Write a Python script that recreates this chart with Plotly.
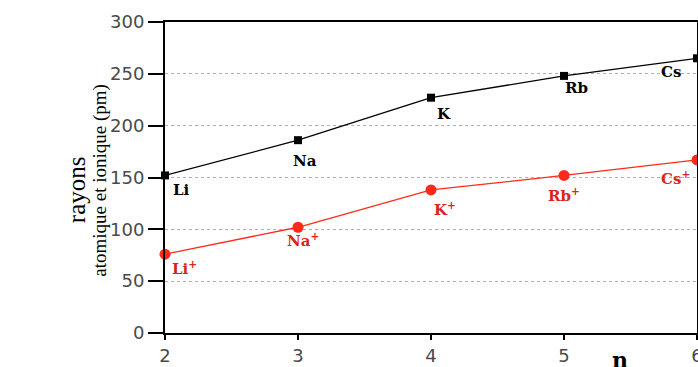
import plotly.graph_objects as go

# Period number n and radii (pm) of the alkali metals
periods = [2, 3, 4, 5, 6]
atom_labels = ["Li", "Na", "K", "Rb", "Cs"]
ion_labels = ["Li<sup>+</sup>", "Na<sup>+</sup>", "K<sup>+</sup>", "Rb<sup>+</sup>", "Cs<sup>+</sup>"]
atomic_radius = [152, 186, 227, 248, 265]
ionic_radius = [76, 102, 138, 152, 167]
y_ticks = [0, 50, 100, 150, 200, 250, 300]
x_ticks = [2, 3, 4, 5, 6]

BLACK = "#000000"
RED = "#ff2a1a"
RED_TEXT = "#d8261a"

fig = go.Figure()
fig.add_trace(go.Scatter(
    x=periods, y=atomic_radius, mode="lines+markers",
    line=dict(color=BLACK, width=1.3),
    marker=dict(symbol="square", size=8, color=BLACK),
    cliponaxis=False, showlegend=False,
))
fig.add_trace(go.Scatter(
    x=periods, y=ionic_radius, mode="lines+markers",
    line=dict(color=RED, width=1.3),
    marker=dict(symbol="circle", size=11, color=RED),
    cliponaxis=False, showlegend=False,
))

label_font = dict(family="DejaVu Serif", size=15, weight="bold")

# label offsets (px) relative to each point
atom_off = [(6, -15, "left"), (7, -21, "center"), (13, -16, "center"), (12, -12, "center"), (-26, -14, "center")]
ion_off = [(5, -14, "left"), (5, -13, "center"), (14, -19, "center"), (0, -20, "center"), (-22, -18, "center")]

for xv, yv, txt, (dx, dy, anc) in zip(periods, atomic_radius, atom_labels, atom_off):
    fig.add_annotation(x=xv, y=yv, text=txt, showarrow=False, xanchor=anc, yanchor="middle",
                       xshift=dx, yshift=dy, font=dict(color=BLACK, **label_font))
for xv, yv, txt, (dx, dy, anc) in zip(periods, ionic_radius, ion_labels, ion_off):
    fig.add_annotation(x=xv, y=yv, text=txt, showarrow=False, xanchor=anc, yanchor="middle",
                       xshift=dx, yshift=dy, font=dict(color=RED_TEXT, **label_font))

# y-axis title in two lines
fig.add_annotation(xref="paper", yref="paper", x=-0.165, y=0.46, text="rayons", textangle=-90,
                   xanchor="center", yanchor="middle", showarrow=False,
                   font=dict(family="Liberation Serif", size=25, color=BLACK))
fig.add_annotation(xref="paper", yref="paper", x=-0.122, y=0.49, text="atomique et ionique (pm)",
                   textangle=-90, xanchor="center", yanchor="middle", showarrow=False,
                   font=dict(family="Liberation Serif", size=19, color=BLACK))
# x-axis title
fig.add_annotation(xref="paper", yref="paper", x=0.855, y=-0.04, xanchor="center", yanchor="top",
                   text="n", showarrow=False,
                   font=dict(family="DejaVu Serif", size=22, color=BLACK, weight="bold"))

tick_font = dict(family="DejaVu Sans", size=18, color="#4a4a4a")

fig.update_xaxes(
    range=[2, 6], tickvals=x_ticks, ticks="outside", ticklen=5, tickwidth=1.5, tickcolor=BLACK,
    showline=True, linecolor=BLACK, linewidth=2, mirror=True,
    showgrid=False, zeroline=False, tickfont=tick_font, ticklabeloverflow="allow",
    automargin=False,
)
fig.update_yaxes(
    range=[0, 300], tickvals=y_ticks, ticks="outside", ticklen=15, tickwidth=1.5, tickcolor=BLACK,
    showline=True, linecolor=BLACK, linewidth=2, mirror=True,
    showgrid=True, gridcolor="#b0b0b0", griddash="dot", gridwidth=1,
    zeroline=False, tickfont=tick_font, automargin=False,
)

fig.update_layout(
    width=698, height=367,
    margin=dict(l=165, r=1, t=22, b=34),
    plot_bgcolor="white", paper_bgcolor="white",
)

fig.write_html("out.html")
